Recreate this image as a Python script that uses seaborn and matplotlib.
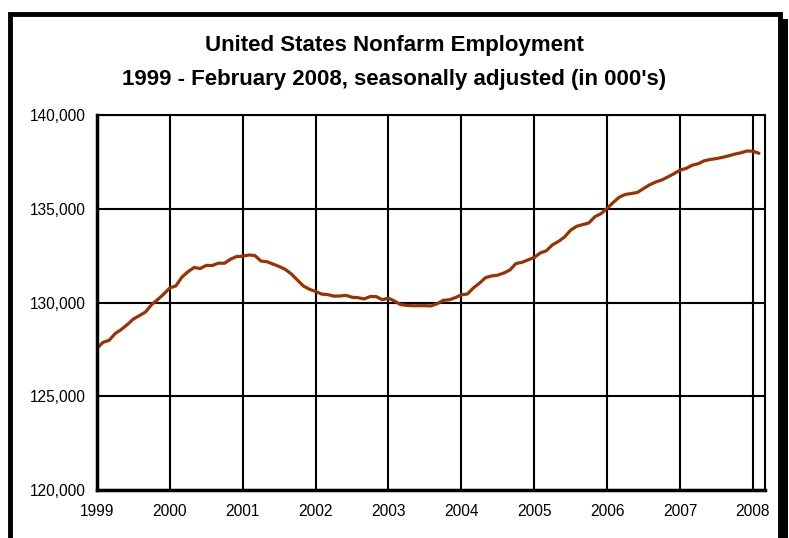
import numpy as np
import pandas as pd
import matplotlib
matplotlib.use("Agg")
import matplotlib.pyplot as plt
import seaborn as sns
from matplotlib.patches import Rectangle
from matplotlib.ticker import FuncFormatter

# Monthly nonfarm employment, Jan 1999 - Feb 2008 (thousands, SA)
y1999 = [127553, 127876, 127983, 128345, 128561, 128824, 129120, 129303, 129496, 129888, 130156, 130452]
y2000 = [130781, 130888, 131360, 131646, 131869, 131814, 131979, 131976, 132099, 132093, 132312, 132452]
y2001 = [132468, 132535, 132507, 132212, 132176, 132050, 131921, 131768, 131525, 131198, 130879, 130705]
y2002 = [130591, 130450, 130420, 130341, 130348, 130383, 130281, 130255, 130194, 130320, 130312, 130149]
y2003 = [130233, 130074, 129888, 129846, 129829, 129831, 129832, 129818, 129931, 130115, 130146, 130257]
y2004 = [130410, 130453, 130785, 131036, 131330, 131417, 131461, 131574, 131735, 132081, 132145, 132277]
y2005 = [132403, 132643, 132761, 133077, 133260, 133496, 133862, 134067, 134156, 134244, 134581, 134739]
y2006 = [135021, 135336, 135618, 135764, 135815, 135871, 136080, 136276, 136427, 136535, 136698, 136869]
y2007 = [137064, 137149, 137324, 137402, 137560, 137629, 137677, 137742, 137823, 137913, 137982, 138080]
y2008 = [138070, 137960]

years = ["1999", "2000", "2001", "2002", "2003", "2004", "2005", "2006", "2007", "2008"]
employment = y1999 + y2000 + y2001 + y2002 + y2003 + y2004 + y2005 + y2006 + y2007 + y2008

df = pd.DataFrame({"month": np.arange(len(employment)), "jobs": employment})

sns.set_style("white")
plt.rcParams["font.family"] = ["Liberation Sans", "DejaVu Sans"]
plt.rcParams["text.color"] = "black"

fig = plt.figure(figsize=(7.89, 5.38), dpi=100)
ax = fig.add_axes([0.1229, 0.0892, 0.8467, 0.697])

sns.lineplot(data=df, x="month", y="jobs", ax=ax, color="#993300", linewidth=2.3)

ax.set_xlim(0, 110)
ax.set_ylim(120000, 140000)
ax.set_xticks(np.arange(0, 109, 12))
ax.set_xticklabels(years)
ax.set_yticks(np.arange(120000, 140001, 5000))
ax.yaxis.set_major_formatter(FuncFormatter(lambda v, p: f"{int(v):,}"))
ax.set_xlabel("")
ax.set_ylabel("")
ax.grid(True, color="black", linewidth=1.5)
ax.set_axisbelow(True)
for side in ["top", "right"]:
    ax.spines[side].set_linewidth(1.5)
    ax.spines[side].set_color("black")
for side in ["left", "bottom"]:
    ax.spines[side].set_linewidth(2.5)
    ax.spines[side].set_color("black")
ax.tick_params(axis="both", direction="out", length=5, width=1.5, color="black",
               labelsize=11.2, labelcolor="black")
ax.tick_params(axis="x", pad=5)
ax.tick_params(axis="y", pad=3)

fig.text(0.5, 1 - 46 / 538, "United States Nonfarm Employment", ha="center", va="center",
         fontsize=16, fontweight="bold", color="black")
fig.text(0.5, 1 - 79 / 538, "1999 - February 2008, seasonally adjusted (in 000's)", ha="center",
         va="center", fontsize=16, fontweight="bold", color="black")

# chart frame with drop shadow on the right
W, H = 789, 538
fig.patches.append(Rectangle((782 / W, -0.1), 6 / W, 1.1 - 19 / H, transform=fig.transFigure,
                             facecolor="black", edgecolor="none"))
fig.patches.append(Rectangle((10 / W, -0.1), 770 / W, 1.1 - 14 / H, transform=fig.transFigure,
                             facecolor="none", edgecolor="black", linewidth=3.5))

fig.savefig("out.png", dpi=100)
